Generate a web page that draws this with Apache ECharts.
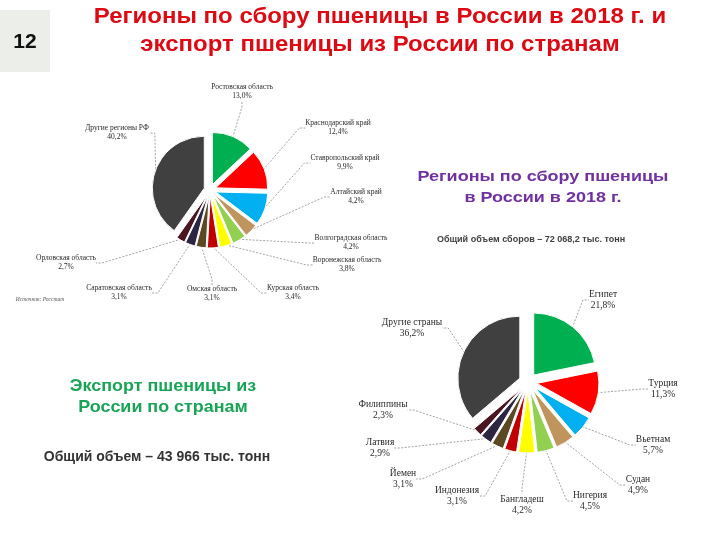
<!DOCTYPE html>
<html>
<head>
<meta charset="utf-8">
<script src="https://cdn.jsdelivr.net/npm/echarts@6/dist/echarts.min.js"></script>
<style>
  html, body { margin: 0; padding: 0; background: #fff; }
  #chart { width: 720px; height: 540px; }
</style>
</head>
<body>
<div id="chart"></div>
<script>
// Регионы по сбору пшеницы, 2018, %
const regionNames = ['Ростовская область', 'Краснодарский край', 'Ставропольский край', 'Алтайский край',
  'Волгоградская область', 'Воронежская область', 'Курская область', 'Омская область',
  'Саратовская область', 'Орловская область', 'Другие регионы РФ'];
const regionShares = [13.0, 12.4, 9.9, 4.2, 4.2, 3.8, 3.4, 3.1, 3.1, 2.7, 40.2];

// Экспорт пшеницы по странам, %
const countryNames = ['Египет', 'Турция', 'Вьетнам', 'Судан', 'Нигерия', 'Бангладеш',
  'Индонезия', 'Йемен', 'Латвия', 'Филиппины', 'Другие страны'];
const countryShares = [21.8, 11.3, 5.7, 4.9, 4.5, 4.2, 3.1, 3.1, 2.9, 2.3, 36.2];

const sliceColors = ['#00b050', '#ff0000', '#00b0f0', '#c0955d', '#92d050', '#ffff00',
  '#c00000', '#5b4924', '#2d2643', '#4a1621', '#404040'];

// label placement (text centres), layout only
const regionLabelPos = [[242, 92], [338, 128], [345, 163], [356, 197], [351, 243], [347, 265],
  [293, 293], [212, 294], [119, 293], [66, 263], [117, 133]];
const countryLabelPos = [[603, 300], [663, 389], [653, 445], [638, 485], [590, 501], [522, 505],
  [457, 496], [403, 479], [380, 448], [383, 410], [412, 328]];

function pct(v) {
  return v.toFixed(1).replace('.', ',') + '%';
}

// exploded pie, no labels
function pieSlices(names, values, center, radius, offset) {
  return {
    type: 'pie',
    center: center,
    radius: radius,
    startAngle: 90,
    clockwise: true,
    selectedMode: 'multiple',
    selectedOffset: offset,
    silent: true,
    emphasis: { disabled: true },
    itemStyle: { borderColor: '#fff', borderWidth: 1 },
    label: { show: false },
    labelLine: { show: false },
    data: names.map((n, i) => ({
      name: n, value: values[i], selected: true,
      itemStyle: { color: sliceColors[i] }
    }))
  };
}

// transparent pie of the same data that only carries labels and leader lines
function pieLabels(names, values, center, radius, fontSize, labelPos) {
  return {
    type: 'pie',
    center: center,
    radius: radius,
    startAngle: 90,
    clockwise: true,
    silent: true,
    avoidLabelOverlap: false,
    emphasis: { disabled: true },
    itemStyle: { color: 'rgba(0,0,0,0)', borderWidth: 0 },
    data: names.map((n, i) => ({ name: n, value: values[i] })),
    label: {
      show: true,
      position: 'outside',
      formatter: p => p.name + '\n' + pct(p.value),
      fontFamily: 'Liberation Serif',
      fontSize: fontSize,
      lineHeight: fontSize + 1.5,
      color: '#2a2a2a'
    },
    labelLine: {
      show: true, length: 6, length2: 6,
      lineStyle: { color: '#8a8a8a', type: [2, 1.5], width: 0.8 }
    },
    labelLayout: p => ({
      x: labelPos[p.dataIndex][0],
      y: labelPos[p.dataIndex][1],
      align: 'center',
      verticalAlign: 'middle'
    })
  };
}

// centred heading text, slightly widened like the slide
function heading(text, x, y, size, lineHeight, color, stretch) {
  return {
    type: 'text', x: x, y: y, scaleX: stretch,
    style: {
      text: text, x: 0, y: 0, textAlign: 'center', textVerticalAlign: 'middle',
      lineHeight: lineHeight, font: 'bold ' + size + 'px "Liberation Sans", Arial', fill: color
    }
  };
}

const chart = echarts.init(document.getElementById('chart'));

chart.setOption({
  animation: false,
  backgroundColor: '#fff',
  graphic: [
    { type: 'rect', shape: { x: 0, y: 10, width: 50, height: 62 }, style: { fill: '#eceeea' } },
    heading('12', 25, 42, 21, 24, '#111', 1),
    heading('Регионы по сбору пшеницы в России в 2018 г. и\nэкспорт пшеницы из России по странам',
      380, 31, 22, 28, '#dd0a14', 1.09),
    heading('Регионы по сбору пшеницы\nв России в 2018 г.', 543, 187.5, 15.5, 20.6, '#7030a0', 1.16),
    heading('Общий объем сборов – 72 068,2 тыс. тонн', 531, 240, 8.5, 10, '#404040', 1.06),
    heading('Экспорт пшеницы из\nРоссии по странам', 163, 397, 16.3, 21.6, '#17a555', 1.1),
    heading('Общий объем – 43 966 тыс. тонн', 157, 457, 14, 16, '#333', 1),
    { type: 'text', style: { text: 'Источник: Росстат',
        x: 40, y: 300, textAlign: 'center', textVerticalAlign: 'middle',
        font: 'italic 5.5px "Liberation Serif"', fill: '#555' } }
  ],
  series: [
    pieSlices(regionNames, regionShares, [210, 190], 52, 6),
    pieLabels(regionNames, regionShares, [210, 190], 57, 7.5, regionLabelPos),
    pieSlices(countryNames, countryShares, [528, 382], 62, 9),
    pieLabels(countryNames, countryShares, [528, 382], 70, 9.5, countryLabelPos)
  ]
});
</script>
</body>
</html>
